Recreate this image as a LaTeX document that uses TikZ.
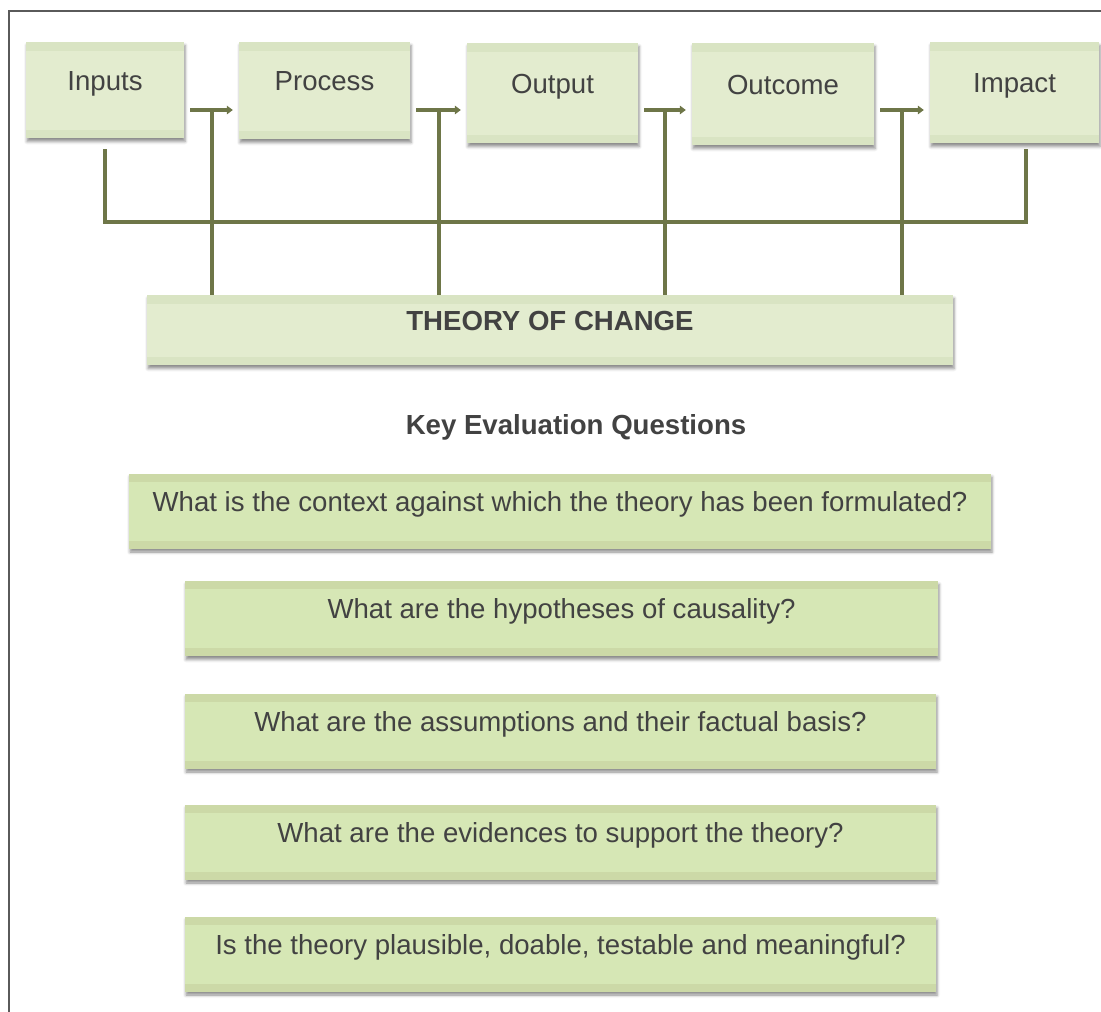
\documentclass[tikz,border=0pt]{standalone}
\usepackage{fontspec}
\setmainfont{Liberation Sans}
\usetikzlibrary{arrows.meta,calc,shadows.blur}

\definecolor{txt}{RGB}{66,66,66}
\definecolor{linkc}{RGB}{110,118,72}
\definecolor{stagefill}{RGB}{227,236,207}
\definecolor{stageband}{RGB}{217,228,195}
\definecolor{qfill}{RGB}{214,231,181}
\definecolor{qband}{RGB}{204,217,167}
\definecolor{framec}{RGB}{90,90,90}

\tikzset{
  boxbase/.style={
    rectangle, inner sep=0pt, text=txt, text height=0pt, text depth=0pt,
    font=\fontsize{27.6}{33}\selectfont,
    blur shadow={shadow xshift=1pt, shadow yshift=-3.5pt, shadow blur radius=3pt, shadow opacity=45}},
  stage/.style={boxbase, fill=stagefill,
    path picture={
      \fill[stageband] (path picture bounding box.north west) rectangle ([yshift=-9pt]path picture bounding box.north east);
      \fill[stageband] (path picture bounding box.south west) rectangle ([yshift=8pt]path picture bounding box.south east);}},
  question/.style={boxbase, fill=qfill, minimum height=75pt,
    path picture={
      \fill[qband] (path picture bounding box.north west) rectangle ([yshift=-8pt]path picture bounding box.north east);
      \fill[qband] (path picture bounding box.south west) rectangle ([yshift=8pt]path picture bounding box.south east);}},
  conn/.style={draw=linkc, line width=4pt},
  flow/.style={conn, -{Triangle[length=6pt,width=8.5pt]}},
}

\begin{document}
\begin{tikzpicture}[x=1pt,y=1pt]
\useasboundingbox (0,0) rectangle (1101,-1012);

% frame edges
\draw[framec, line width=1.4pt] (9,-1012) -- (9,-11) -- (1101,-11);

% stages of the results chain
\node[stage, minimum width=158pt, minimum height=96pt]  (inputs)  at (105,-90)    {Inputs};
\node[stage, minimum width=171pt, minimum height=97pt]  (process) at (324.5,-90.5) {Process};
\node[stage, minimum width=171pt, minimum height=100pt] (output)  at (552.5,-93)  {Output};
\node[stage, minimum width=182pt, minimum height=102pt] (outcome) at (783,-94)    {Outcome};
\node[stage, minimum width=169pt, minimum height=101pt] (impact)  at (1014.5,-92.5) {Impact};

% theory of change bar
\node[stage, minimum width=806pt, minimum height=70pt] (theory) at (550,-330)
  {\bfseries THEORY OF CHANGE};

% levels used by the connectors
\coordinate (lvl) at (0,-110);
\coordinate (bus) at (0,-222);

% arrows between stages, each with a drop to the theory bar
\foreach \a/\b/\i in {inputs/process/1, process/output/2, output/outcome/3, outcome/impact/4}{
  \coordinate (s\i) at ([xshift=6pt]\a.east |- lvl);
  \coordinate (e\i) at ([xshift=-6pt]\b.west |- lvl);
  \coordinate (m\i) at ($(s\i)!0.5!(e\i)$);
  \draw[flow] (s\i) -- (e\i);
  \draw[conn] ([yshift=-1pt]m\i) -- (m\i |- theory.north);
}

% bracket joining inputs and impact
\draw[conn] ([yshift=-11pt]inputs.south) -- (inputs.south |- bus)
  -| ([shift={(11.5pt,-6pt)}]impact.south);

% heading
\node[text=txt, font=\fontsize{27.6}{33}\selectfont\bfseries] (keyq) at (576,-427)
  {Key Evaluation Questions};

% evaluation questions
\node[question, minimum width=862pt] (q1) at (560,-511)
  {What is the context against which the theory has been formulated?};
\node[question, minimum width=753pt] (q2) at (561.5,-618.5)
  {What are the hypotheses of causality?};
\node[question, minimum width=751pt] (q3) at (560.5,-731)
  {What are the assumptions and their factual basis?};
\node[question, minimum width=751pt] (q4) at (560.5,-842)
  {What are the evidences to support the theory?};
\node[question, minimum width=751pt] (q5) at (560.5,-954)
  {Is the theory plausible, doable, testable and meaningful?};
\end{tikzpicture}
\end{document}
